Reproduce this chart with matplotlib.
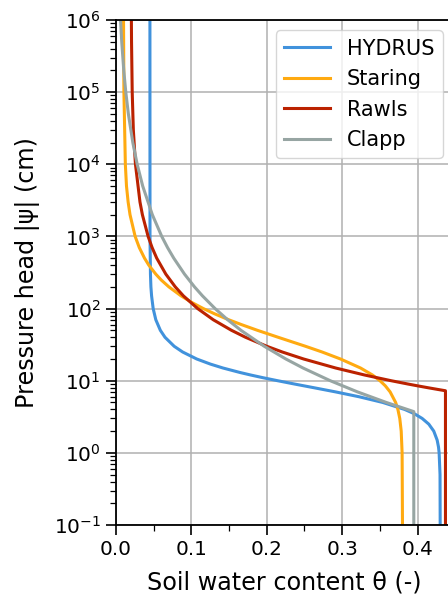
import matplotlib
matplotlib.use("Agg")
import matplotlib.pyplot as plt
from matplotlib.ticker import LogLocator, NullFormatter, MultipleLocator

# pressure head |psi| (cm) and water content theta (-)
h_hydrus = [1e6, 1e3, 300, 200, 150, 100, 70, 50, 40, 30, 25, 20, 17, 15, 13, 12, 11, 10,
            9, 8, 7, 6, 5, 4, 3.5, 3, 2.5, 2, 1.5, 1.2, 1, 0.5, 0.1]
theta_hydrus = [0.0450, 0.0451, 0.0457, 0.0463, 0.0472, 0.0493, 0.0528, 0.0588, 0.0650,
                0.0772, 0.0884, 0.1071, 0.1252, 0.1419, 0.1645, 0.1786, 0.1951, 0.2144,
                0.2367, 0.2624, 0.2912, 0.3222, 0.3537, 0.3828, 0.3954, 0.4061, 0.4149,
                0.4215, 0.4260, 0.4278, 0.4286, 0.4298, 0.4300]

h_staring = [1e6, 1e5, 1e4, 5e3, 3e3, 2e3, 1e3, 700, 500, 400, 300, 250, 200, 150, 120,
             100, 85, 70, 60, 50, 40, 30, 25, 20, 15, 12, 10, 8.5, 7, 5, 4, 3, 2, 1, 0.1]
theta_staring = [0.0100, 0.0105, 0.0124, 0.0139, 0.0161, 0.0186, 0.0254, 0.0309, 0.0378,
                 0.0435, 0.0528, 0.0598, 0.0701, 0.0863, 0.1015, 0.1159, 0.1303, 0.1495,
                 0.1663, 0.1875, 0.2151, 0.2514, 0.2734, 0.2978, 0.3244, 0.3402, 0.3501,
                 0.3572, 0.3636, 0.3709, 0.3739, 0.3764, 0.3783, 0.3795, 0.3800]

h_rawls = [1e6, 5e5, 1e5, 3e4, 1e4, 3e3, 2e3, 1e3, 700, 500, 300, 200, 150, 100, 70, 50,
           40, 30, 25, 20, 15, 12, 10, 9, 8.5, 8, 7.6, 7.26, 0.1]
theta_rawls = [0.0204, 0.0206, 0.0215, 0.0230, 0.0258, 0.0318, 0.0350, 0.0426, 0.0479,
               0.0540, 0.0661, 0.0786, 0.0894, 0.1083, 0.1290, 0.1531, 0.1718, 0.2001,
               0.2206, 0.2489, 0.2914, 0.3297, 0.3650, 0.3872, 0.3998, 0.4137, 0.4259,
               0.4370, 0.4370]

h_clapp = [1e6, 5e5, 2e5, 1e5, 5e4, 2e4, 1e4, 5e3, 2e3, 1e3, 700, 500, 300, 200, 150, 100,
           70, 50, 30, 20, 15, 10, 7, 5, 4, 3.73, 0.1]
theta_clapp = [0.0060, 0.0076, 0.0103, 0.0130, 0.0164, 0.0223, 0.0281, 0.0354, 0.0482,
               0.0607, 0.0684, 0.0766, 0.0909, 0.1041, 0.1147, 0.1314, 0.1481, 0.1657,
               0.1967, 0.2253, 0.2481, 0.2842, 0.3203, 0.3585, 0.3863, 0.3950, 0.3950]

fig = plt.figure(figsize=(4.48, 5.98), dpi=100)
ax = fig.add_axes([116 / 448, 73 / 598, 337 / 448, 505 / 598])

lw = 2.2
ax.plot(theta_hydrus, h_hydrus, color="#4192dc", lw=lw, label="HYDRUS")
ax.plot(theta_staring, h_staring, color="#ffaa11", lw=lw, label="Staring")
ax.plot(theta_rawls, h_rawls, color="#bb2200", lw=lw, label="Rawls")
ax.plot(theta_clapp, h_clapp, color="#97a5a3", lw=lw, label="Clapp")

ax.set_yscale("log")
ax.set_ylim(1e-1, 1e6)
ax.set_xlim(0, 0.447)
ax.set_yticks([10.0**k for k in range(-1, 7)])
ax.yaxis.set_minor_locator(LogLocator(base=10, subs=range(2, 10), numticks=20))
ax.yaxis.set_minor_formatter(NullFormatter())
ax.xaxis.set_major_locator(MultipleLocator(0.1))
ax.xaxis.set_minor_locator(MultipleLocator(0.05))

ax.grid(True, which="major", color="#b0b0b0", lw=1.1)
ax.set_axisbelow(True)
for s in ax.spines.values():
    s.set_linewidth(1.3)
ax.tick_params(which="major", labelsize=14.4, length=7, width=1.2, pad=4)
ax.tick_params(which="minor", length=4, width=0.9)

ax.set_xlabel("Soil water content θ (-)", fontsize=17.2, labelpad=8)
ax.set_ylabel("Pressure head |ψ| (cm)", fontsize=17.2, labelpad=10)
ax.legend(loc="upper right", fontsize=15, handlelength=2.2)

fig.savefig("out.png", dpi=100)
